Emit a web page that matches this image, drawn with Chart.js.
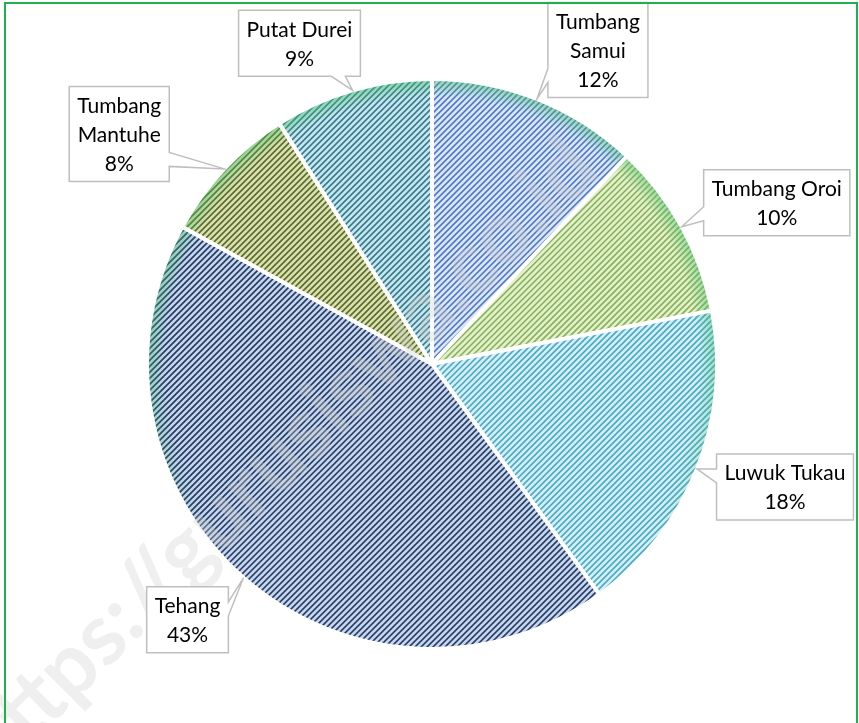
<!DOCTYPE html>
<html>
<head>
<meta charset="utf-8">
<script src="https://cdn.jsdelivr.net/npm/chart.js@4.4.1/dist/chart.umd.min.js"></script>
<style>
  html, body { margin: 0; padding: 0; background: #fff; }
</style>
</head>
<body>
<canvas id="pieChart" width="859" height="723"></canvas>
<script>
// data
const categories = ["Tumbang Samui", "Tumbang Oroi", "Luwuk Tukau", "Tehang", "Tumbang Mantuhe", "Putat Durei"];
const shares = [12, 10, 18, 43, 8, 9];

// styles
const fillColors = ["#dbe5f4", "#e4eed0", "#d6eef3", "#c6d5ea", "#d8e0b2", "#cbe4eb"];
const stripeColors = ["#4a78c6", "#86b452", "#45abc6", "#223a66", "#5a6a26", "#2c7b8e"];
const labelOffsets = [[61, -49], [95, -24], [88, 18], [-56, 42], [-105, -35], [-53, -47]];
const wrapLabel = [true, false, false, false, true, false];

const patternCache = {};

function makePattern(i, chart) {
  if (patternCache[i]) return patternCache[i];
  const a = chart.chartArea;
  const W = chart.width, H = chart.height;
  const cx = (a.left + a.right) / 2, cy = (a.top + a.bottom) / 2;
  const r = Math.min(a.width, a.height) / 2;

  const c = document.createElement("canvas");
  c.width = W; c.height = H;
  const g = c.getContext("2d");
  g.fillStyle = fillColors[i];
  g.fillRect(0, 0, W, H);
  g.strokeStyle = stripeColors[i];
  g.lineWidth = 1.6;
  g.beginPath();
  for (let k = -H; k < W + H; k += 6) {
    g.moveTo(k, H);
    g.lineTo(k + H, 0);
  }
  g.stroke();

  // soft green glow along the rim, fading out towards the bottom
  const ring = document.createElement("canvas");
  ring.width = W; ring.height = H;
  const rg = ring.getContext("2d");
  const grad = rg.createRadialGradient(cx, cy, r - 20, cx, cy, r);
  grad.addColorStop(0, "rgba(70,190,110,0)");
  grad.addColorStop(1, "rgba(70,190,110,0.6)");
  rg.fillStyle = grad;
  rg.fillRect(0, 0, W, H);
  rg.globalCompositeOperation = "destination-in";
  const fade = rg.createLinearGradient(0, cy - r, 0, cy + r * 0.6);
  fade.addColorStop(0, "rgba(0,0,0,1)");
  fade.addColorStop(0.6, "rgba(0,0,0,0.8)");
  fade.addColorStop(1, "rgba(0,0,0,0)");
  rg.fillStyle = fade;
  rg.fillRect(0, 0, W, H);
  g.drawImage(ring, 0, 0);

  patternCache[i] = chart.ctx.createPattern(c, "no-repeat");
  return patternCache[i];
}

function calloutPath(ctx, bx, by, w, h, tx, ty) {
  const cx = bx + w / 2, cy = by + h / 2;
  const dx = tx - cx, dy = ty - cy;
  let side;
  if (Math.abs(dx) / (w / 2) > Math.abs(dy) / (h / 2)) side = dx > 0 ? "right" : "left";
  else side = dy > 0 ? "bottom" : "top";
  const nw = 14, m = 22;
  const clamp = (v, lo, hi) => Math.max(lo, Math.min(hi, v));
  ctx.beginPath();
  ctx.moveTo(bx, by);
  if (side === "top") {
    const c0 = clamp(tx, bx + m, bx + w - m);
    ctx.lineTo(c0 - nw / 2, by); ctx.lineTo(tx, ty); ctx.lineTo(c0 + nw / 2, by);
  }
  ctx.lineTo(bx + w, by);
  if (side === "right") {
    const c0 = clamp(ty, by + m, by + h - m);
    ctx.lineTo(bx + w, c0 - nw / 2); ctx.lineTo(tx, ty); ctx.lineTo(bx + w, c0 + nw / 2);
  }
  ctx.lineTo(bx + w, by + h);
  if (side === "bottom") {
    const c0 = clamp(tx, bx + m, bx + w - m);
    ctx.lineTo(c0 + nw / 2, by + h); ctx.lineTo(tx, ty); ctx.lineTo(c0 - nw / 2, by + h);
  }
  ctx.lineTo(bx, by + h);
  if (side === "left") {
    const c0 = clamp(ty, by + m, by + h - m);
    ctx.lineTo(bx, c0 + nw / 2); ctx.lineTo(tx, ty); ctx.lineTo(bx, c0 - nw / 2);
  }
  ctx.closePath();
}

const calloutLabels = {
  id: "calloutLabels",
  afterDatasetsDraw(chart) {
    const ctx = chart.ctx;
    const meta = chart.getDatasetMeta(0);
    const values = chart.data.datasets[0].data;
    const total = values.reduce((s, v) => s + v, 0);
    const lineH = 29;

    // watermark (under the labels)
    ctx.save();
    const text = "https://gurusiswa.co.id";
    ctx.font = "bold 100px Lato";
    const size = 100 * 860 / ctx.measureText(text).width;
    ctx.font = "bold " + size + "px Lato";
    ctx.translate(-25, 762);
    ctx.rotate(-Math.PI / 4);
    ctx.textBaseline = "middle";
    ctx.textAlign = "left";
    ctx.fillStyle = "rgba(205,205,205,0.32)";
    ctx.fillText(text, 0, 0);
    ctx.restore();

    ctx.save();
    ctx.font = "21px Lato";
    ctx.textAlign = "center";
    ctx.textBaseline = "middle";
    meta.data.forEach((el, i) => {
      const mid = (el.startAngle + el.endAngle) / 2;
      const tx = el.x + Math.cos(mid) * el.outerRadius;
      const ty = el.y + Math.sin(mid) * el.outerRadius;
      const name = chart.data.labels[i];
      let lines = wrapLabel[i] ? name.split(" ") : [name];
      lines = lines.concat([Math.round(values[i] / total * 100) + "%"]);
      const w = Math.max(...lines.map(t => ctx.measureText(t).width)) + 16;
      const h = lines.length * lineH + 8;
      const bcx = tx + labelOffsets[i][0], bcy = ty + labelOffsets[i][1];
      const bx = bcx - w / 2, by = bcy - h / 2;
      calloutPath(ctx, bx, by, w, h, tx, ty);
      ctx.fillStyle = "#ffffff";
      ctx.fill();
      ctx.strokeStyle = "#bfbfbf";
      ctx.lineWidth = 1.5;
      ctx.stroke();
      ctx.fillStyle = "#000000";
      lines.forEach((t, k) => {
        ctx.fillText(t, bcx, by + 4 + lineH * (k + 0.5) + 1);
      });
    });
    ctx.restore();
  },
  afterDraw(chart) {
    const ctx = chart.ctx;
    ctx.save();
    ctx.strokeStyle = "#22b04e";
    ctx.lineWidth = 2;
    ctx.strokeRect(5, 3, 852, 760);
    ctx.restore();
  }
};

new Chart(document.getElementById("pieChart"), {
  type: "pie",
  data: {
    labels: categories,
    datasets: [{
      data: shares,
      backgroundColor: (c) => {
        const chart = c.chart;
        if (!chart.chartArea) return fillColors[c.dataIndex];
        return makePattern(c.dataIndex, chart);
      },
      borderColor: "#ffffff",
      borderWidth: 4,
      hoverOffset: 0,
    }],
  },
  options: {
    responsive: false,
    animation: false,
    devicePixelRatio: 1,
    layout: { padding: { top: 77, bottom: 72, left: 98, right: 93 } },
    plugins: {
      legend: { display: false },
      tooltip: { enabled: false },
    },
  },
  plugins: [calloutLabels],
});
</script>
</body>
</html>
